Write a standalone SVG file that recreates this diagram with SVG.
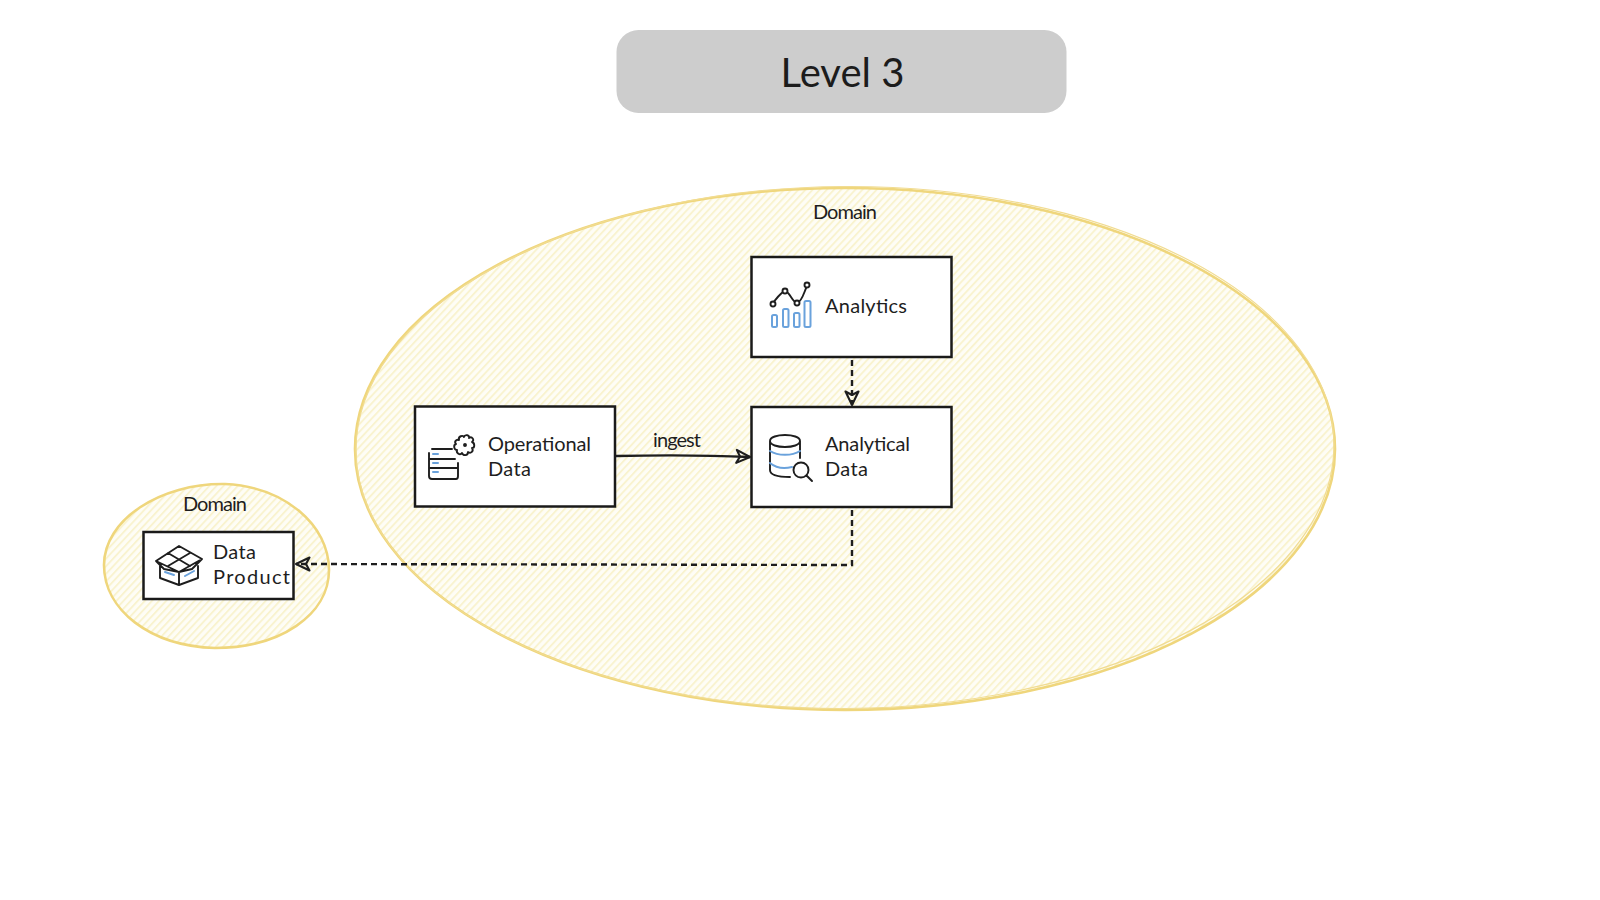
<svg xmlns="http://www.w3.org/2000/svg" width="1600" height="900" viewBox="0 0 1600 900">
<style>
.box{fill:#fff;stroke:#1a1a1a;stroke-width:2.5}
.sk{fill:none;stroke:#1e1e1e;stroke-width:1.9;stroke-linecap:round;stroke-linejoin:round}
.bl{fill:none;stroke:#6aa2dc;stroke-width:2;stroke-linecap:round;stroke-linejoin:round}
.dom{fill:url(#hatch);stroke:#efd67c;stroke-width:2.6}
.rim{fill:none;stroke:#f1dc92;stroke-width:1.2}
.t{font-family:"Lato","Open Sans",sans-serif;font-size:20px;fill:#1e1e1e}
.c{fill:none;stroke:#1e1e1e;stroke-width:2.4}
.d{stroke-dasharray:6 4}
</style>
<defs>
<pattern id="hatch" width="5.2" height="5.2" patternUnits="userSpaceOnUse" patternTransform="rotate(-47)">
<rect width="5.2" height="5.2" fill="#fefdf6"/>
<rect width="5.2" height="1.9" fill="#f9f3cf"/>
</pattern>
<marker id="ah" markerWidth="18" markerHeight="16" refX="15" refY="8" orient="auto" markerUnits="userSpaceOnUse">
<path d="M1.5 1.5L15 8L1.5 14.5L5 8Z" fill="none" stroke="#1e1e1e" stroke-width="2.1" stroke-linejoin="round"/>
</marker>
</defs>
<rect width="1600" height="900" fill="#fff"/>
<g id="title">
<rect x="616.5" y="30" width="450" height="83" rx="22" fill="#cdcdcd"/>
<text x="842.5" y="87" text-anchor="middle" font-family="Lato,'Open Sans',sans-serif" font-size="40" fill="#1c1c1c">Level 3</text>
</g>
<g id="domain-large">
<ellipse class="dom" cx="845" cy="449" rx="490" ry="261"/>
<ellipse class="rim" cx="845" cy="447.5" rx="489" ry="261" transform="rotate(-0.4 845 449)"/>
<text class="t" x="845" y="219" text-anchor="middle" textLength="64">Domain</text>
</g>
<g id="domain-small">
<path class="dom" d="M104 565C104 520 160 483 225 484C285 487 329 525 329 570C329 615 280 648 215 648C150 646 104 610 104 565Z"/>
<text class="t" x="215" y="511" text-anchor="middle" textLength="64">Domain</text>
</g>
<g id="connectors">
<path class="c" d="M616 456C660 455 705 455 750 457" marker-end="url(#ah)"/>
<path class="c d" d="M852 360V405" marker-end="url(#ah)"/>
<path class="c d" d="M852 510V565L296 564" marker-end="url(#ah)"/>
<text class="t" x="677" y="447" text-anchor="middle" textLength="48">ingest</text>
</g>
<g id="analytics">
<rect class="box" x="751.5" y="257" width="200" height="100"/>
<path class="sk" d="M773 303C777 298 781 292 785 291C790 292 792 302 797 303C802 302 804 292 807 286"/>
<circle class="sk" cx="773" cy="304" r="2.5" style="fill:#fff"/>
<circle class="sk" cx="785" cy="291" r="2.5" style="fill:#fff"/>
<circle class="sk" cx="797" cy="303" r="2.5" style="fill:#fff"/>
<circle class="sk" cx="807" cy="285" r="2.5" style="fill:#fff"/>
<rect class="bl" x="772" y="315" width="5" height="12" rx="1.5"/>
<rect class="bl" x="783" y="309" width="5.5" height="18" rx="1.5"/>
<rect class="bl" x="794" y="313" width="5.5" height="14" rx="1.5"/>
<rect class="bl" x="804.5" y="301" width="6" height="26" rx="1.5"/>
<text class="t" x="825" y="313" textLength="82">Analytics</text>
</g>
<g id="analytical-data">
<rect class="box" x="751.5" y="407" width="200" height="100"/>
<path class="sk" d="M770 441C770 433 800 433 800 441C800 449 770 449 770 441V470C770 475 776 477 790 477M800 441V458"/>
<path class="bl" d="M770 451C778 456 792 456 800 451M770 463C776 468 784 469 792 467"/>
<circle class="sk" cx="801" cy="470" r="7.5"/>
<path class="sk" d="M806.500 475.500L812 481"/>
<text class="t" x="825" y="451" textLength="85">Analytical</text>
<text class="t" x="825" y="476" textLength="43">Data</text>
</g>
<g id="operational-data">
<rect class="box" x="415" y="406.500" width="200" height="100"/>
<path class="sk" d="M432 449H452M429 453V476C429 478 430 479 432 479H456C457 479 458 478 458 476V463M429 459H455M429 468H457"/>
<path class="sk" d="M459 440C458 436 463 435 464 437C465 434 470 435 469 438C472 436 475 440 472 442C475 443 475 448 472 448C474 451 471 454 468 452C468 456 463 456 462 453C460 456 456 453 457 450C454 450 453 445 456 444C454 442 456 439 459 440Z"/>
<circle class="sk" cx="465" cy="445" r="1"/>
<path class="bl" d="M433 454H438M433 463H438M433 472H438"/>
<text class="t" x="488" y="451" textLength="103">Operational</text>
<text class="t" x="488" y="476" textLength="43">Data</text>
</g>
<g id="data-product">
<rect class="box" x="143.500" y="532" width="150" height="67"/>
<path class="sk" d="M156 561L179 546L202 559L179 572ZM156 561L164 569L179 572L192 569L202 559M168 553L190 566M190 553L168 566M160 566V578L179 585L198 578V566M179 572V585"/>
<path class="bl" d="M165 572L174 575M185 576L194 571"/>
<text class="t" x="213" y="559" textLength="43">Data</text>
<text class="t" x="213" y="584" textLength="77">Product</text>
</g>
</svg>
